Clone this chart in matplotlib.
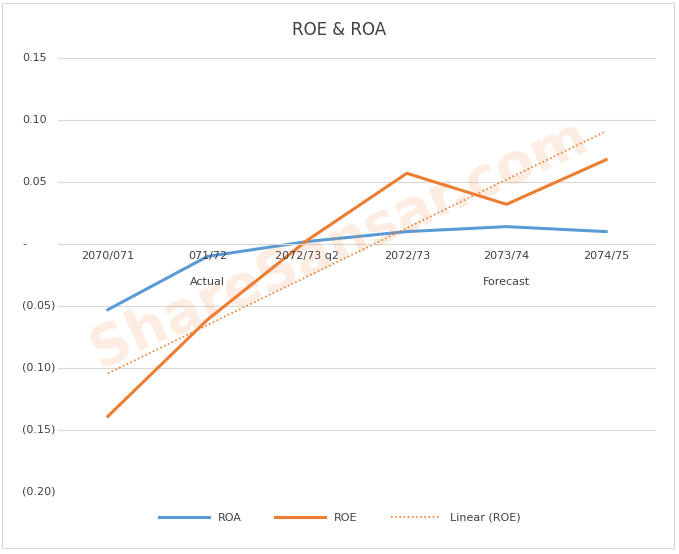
import matplotlib
matplotlib.use("Agg")
import matplotlib.pyplot as plt
import matplotlib.transforms as mtrans
import numpy as np

categories = ["2070/071", "071/72", "2072/73 q2", "2072/73", "2073/74", "2074/75"]
roa = [-0.053, -0.010, 0.002, 0.010, 0.014, 0.010]
roe = [-0.139, -0.061, 0.003, 0.057, 0.032, 0.068]
yticks = [0.15, 0.10, 0.05, 0.0, -0.05, -0.10, -0.15, -0.20]
ytick_labels = ["0.15", "0.10", "0.05", "-", "(0.05)", "(0.10)", "(0.15)", "(0.20)"]

fig = plt.figure(figsize=(6.79, 5.54), dpi=100)
ax = fig.add_axes([58/679, 1-492/554, 598/679, (492-58)/554])
x = np.arange(len(categories))
ax.plot(x, roa, color="#5B9BD5", lw=2.2, label="ROA")
ax.plot(x, roe, color="#ED7D31", lw=2.2, label="ROE")
k, b = np.polyfit(x, roe, 1)
ax.plot(x, k*x+b, color="#ED7D31", lw=1.2, ls=(0, (1, 1.5)), label="Linear (ROE)")
ax.set_xlim(-0.5, 5.5)
ax.set_ylim(-0.20, 0.15)
ax.set_yticks(yticks)
ax.set_yticklabels([])
ax.tick_params(axis="y", length=0)
trans = mtrans.blended_transform_factory(fig.transFigure, ax.transData)
for v, lab in zip(yticks, ytick_labels):
    ax.text(22/679, v, lab, transform=trans, ha="left", va="center", fontsize=8, color="#404040")
ax.set_xticks([])
for s in ax.spines.values():
    s.set_visible(False)
ax.grid(axis="y", color="#D9D9D9", lw=0.8)
ax.set_axisbelow(True)
ax.axhline(0, color="#D9D9D9", lw=0.8)
for i, c in enumerate(categories):
    ax.text(i, -0.006, c, ha="center", va="top", fontsize=8, color="#404040")
ax.text(1, -0.027, "Actual", ha="center", va="top", fontsize=8, color="#404040")
ax.text(4, -0.027, "Forecast", ha="center", va="top", fontsize=8, color="#404040")
fig.text(0.5, 1-30/554, "ROE & ROA", ha="center", va="center", fontsize=12, color="#404040")
fig.text(0.50, 0.56, "ShareSansar.com", rotation=24, ha="center", va="center",
         fontsize=40, fontweight="bold", color="#ED7D31", alpha=0.15)
fig.legend(loc="center", bbox_to_anchor=(0.5, 1-518/554), ncol=3, frameon=False,
           fontsize=8, handlelength=4.5, columnspacing=3, labelcolor="#404040")
fig.patches.append(plt.Rectangle((0.003, 0.01), 0.99, 0.985, transform=fig.transFigure,
                                 fill=False, edgecolor="#D9D9D9", lw=0.8))
fig.savefig("out.png", dpi=100)
